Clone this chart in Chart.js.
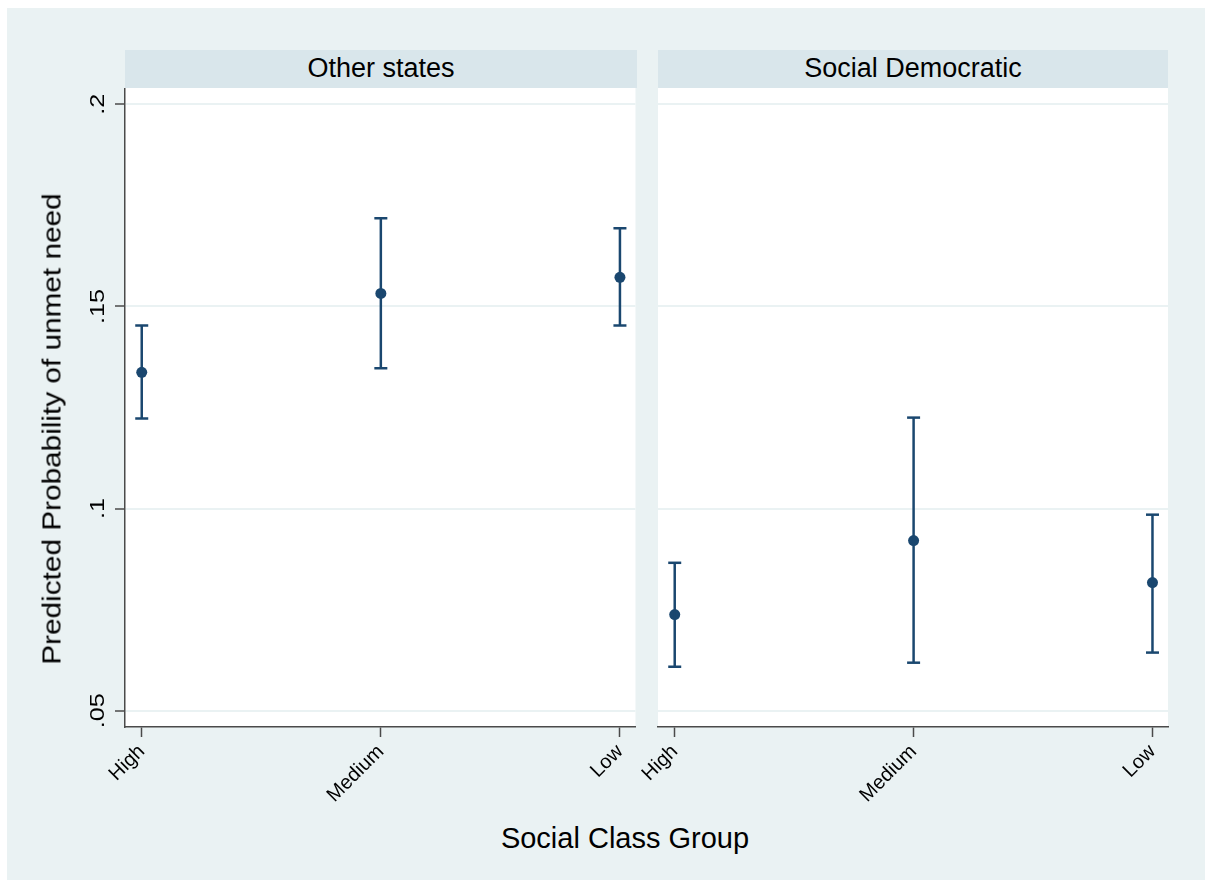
<!DOCTYPE html>
<html>
<head>
<meta charset="utf-8">
<script src="https://cdn.jsdelivr.net/npm/chart.js@4/dist/chart.umd.min.js"></script>
<style>
  body { margin: 0; background: #fff; font-family: "Liberation Sans", Arial, sans-serif; }
  #wrap { position: relative; width: 1205px; height: 880px; overflow: hidden; }
  #bg { position: absolute; left: 7px; top: 8px; width: 1198px; height: 872px; background: #eaf2f3; }
  .strip { position: absolute; top: 50px; height: 38px; background: #d9e6eb; color: #000;
           font-size: 27px; line-height: 36px; text-align: center; }
  canvas { position: absolute; }
  #ytitle { position: absolute; left: 52px; top: 429px; font-size: 25px; white-space: nowrap;
            transform: translate(-50%, -50%) rotate(-90deg) scaleX(1.19); }
  #xtitle { position: absolute; left: 625px; top: 838px; font-size: 29px; white-space: nowrap;
            transform: translate(-50%, -50%); }
</style>
</head>
<body>
<div id="wrap">
  <div id="bg"></div>
  <div class="strip" style="left:125px;width:512px;">Other states</div>
  <div class="strip" style="left:658px;width:510px;">Social Democratic</div>
  <canvas id="left" width="640" height="720" style="left:0;top:88px;"></canvas>
  <canvas id="right" width="570" height="720" style="left:610px;top:88px;"></canvas>
  <div id="ytitle">Predicted Probability of unmet need</div>
  <div id="xtitle">Social Class Group</div>
</div>
<script>
const categories = ['High', 'Medium', 'Low'];
const yTicks = [0.05, 0.1, 0.15, 0.2];
const yTickLabels = ['.05', '.1', '.15', '.2'];

// Other states
const otherEst = [0.1337, 0.1532, 0.1572];
const otherLo = [0.1223, 0.1347, 0.1453];
const otherHi = [0.1453, 0.1718, 0.1693];

// Social Democratic
const sdEst = [0.0738, 0.0921, 0.0817];
const sdLo = [0.0609, 0.0619, 0.0644];
const sdHi = [0.0866, 0.1225, 0.0985];

const NAVY = '#1a476f';
const AXIS = '#4a4a4a';

// white plot region
const plotBg = {
    id: 'plotBg',
    beforeDraw(chart) {
        const a = chart.chartArea;
        const ctx = chart.ctx;
        ctx.save();
        ctx.fillStyle = '#ffffff';
        ctx.fillRect(a.left, a.top, a.right - a.left, a.bottom - a.top);
        ctx.restore();
    }
};

// rotated y tick labels (Stata style)
const yLabels = {
    id: 'yLabels',
    afterDraw(chart, args, opts) {
        if (!opts.show) return;
        const ctx = chart.ctx;
        const y = chart.scales.y;
        ctx.save();
        ctx.fillStyle = '#000';
        ctx.font = '21px "Liberation Sans", Arial, sans-serif';
        ctx.textAlign = 'center';
        ctx.textBaseline = 'alphabetic';
        yTicks.forEach((v, i) => {
            ctx.save();
            ctx.translate(104, y.getPixelForValue(v));
            ctx.rotate(-Math.PI / 2);
            ctx.scale(1.2, 1);
            ctx.fillText(yTickLabels[i], 0, 0);
            ctx.restore();
        });
        ctx.restore();
    }
};

function buildDatasets(est, lo, hi) {
    const sets = categories.map((c, i) => ({
        data: [{ x: i + 1, y: lo[i] }, { x: i + 1, y: hi[i] }],
        showLine: true,
        borderColor: NAVY,
        borderWidth: 2.5,
        pointStyle: 'line',
        pointRadius: 6.5,
        pointBorderWidth: 2.5,
        pointBorderColor: NAVY,
        pointHoverRadius: 6.5
    }));
    sets.push({
        data: est.map((v, i) => ({ x: i + 1, y: v })),
        showLine: false,
        pointRadius: 5.5,
        pointBackgroundColor: NAVY,
        pointBorderColor: NAVY,
        pointBorderWidth: 0
    });
    return sets;
}

function makeChart(id, est, lo, hi, isLeft) {
    const ctx = document.getElementById(id).getContext('2d');
    return new Chart(ctx, {
        type: 'scatter',
        data: { datasets: buildDatasets(est, lo, hi) },
        plugins: [plotBg, yLabels],
        options: {
            responsive: false,
            animation: false,
            layout: {
                autoPadding: false,
                padding: { left: 0, right: isLeft ? 3 : 12, top: 0, bottom: 0 }
            },
            plugins: {
                legend: { display: false },
                tooltip: { enabled: false },
                yLabels: { show: isLeft }
            },
            scales: {
                x: {
                    type: 'linear',
                    min: 0.93,
                    max: 3.065,
                    afterBuildTicks: s => { s.ticks = categories.map((c, i) => ({ value: i + 1 })); },
                    afterFit: s => { s.height = 81; },
                    ticks: {
                        autoSkip: false,
                        minRotation: 45,
                        maxRotation: 45,
                        padding: 3,
                        color: '#000',
                        font: { family: '"Liberation Sans", Arial, sans-serif', size: 20 },
                        callback: v => categories[v - 1]
                    },
                    grid: { drawOnChartArea: false, drawTicks: true, tickLength: 10, tickColor: AXIS, tickWidth: 1.5 },
                    border: { display: true, color: AXIS, width: 1.5 }
                },
                y: {
                    type: 'linear',
                    min: 0.046,
                    max: 0.204,
                    afterBuildTicks: s => { s.ticks = yTicks.map(v => ({ value: v })); },
                    afterFit: s => { s.width = isLeft ? 125 : 48; },
                    ticks: { display: false },
                    grid: {
                        color: '#eaf2f3',
                        lineWidth: 2,
                        drawTicks: isLeft,
                        tickLength: 10,
                        tickColor: AXIS,
                        tickWidth: 1.5
                    },
                    border: { display: isLeft, color: AXIS, width: 1.5 }
                }
            }
        }
    });
}

makeChart('left', otherEst, otherLo, otherHi, true);
makeChart('right', sdEst, sdLo, sdHi, false);
</script>
</body>
</html>
